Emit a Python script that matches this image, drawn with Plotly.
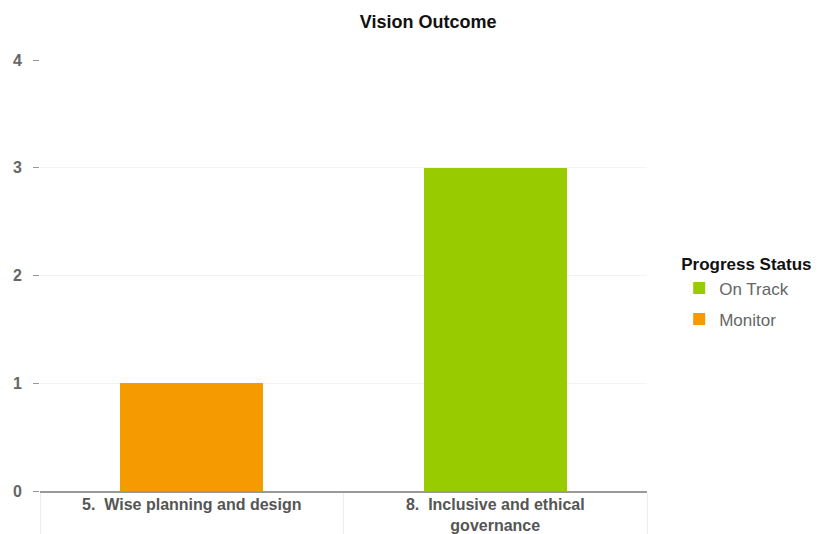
import plotly.graph_objects as go

categories = ["5.  Wise planning and design", "8.  Inclusive and ethical<br>governance"]
series_names = ["On Track", "Monitor"]
on_track_x = ["8.  Inclusive and ethical<br>governance"]
on_track_y = [3]
monitor_x = ["5.  Wise planning and design"]
monitor_y = [1]
y_ticks = [0, 1, 2, 3, 4]

fig = go.Figure()
fig.add_trace(go.Bar(name=series_names[0], x=on_track_x, y=on_track_y,
                     marker=dict(color="#99cc00", line=dict(width=0)), legendgroup="a"))
fig.add_trace(go.Bar(name=series_names[1], x=monitor_x, y=monitor_y,
                     marker=dict(color="#f59a00", line=dict(width=0)), legendgroup="b"))

fig.update_layout(
    width=819, height=534,
    paper_bgcolor="white", plot_bgcolor="white",
    margin=dict(l=32, r=180, t=52, b=51),
    barmode="stack", bargap=0.53,
    font=dict(family="Liberation Sans, Arial, sans-serif", color="#555555"),
    title=dict(text="<b>Vision Outcome</b>", x=0.513, xanchor="center", y=0.975, yanchor="middle",
               font=dict(size=18, color="#111111")),
    legend=dict(title=dict(text="<b>Progress Status</b>", font=dict(size=17, color="#111111")),
                font=dict(size=17, color="#666666"),
                x=1.053, xanchor="left", y=0.46, yanchor="middle",
                traceorder="grouped", tracegroupgap=6),
    xaxis=dict(type="category", categoryorder="array", categoryarray=categories,
               showline=True, linecolor="#999999", linewidth=1.5, automargin=False,
               tickson="boundaries", ticks="outside", ticklen=45, tickcolor="#ececec", tickwidth=1,
               showgrid=False, tickfont=dict(size=16, color="#555555", weight="bold"),
               ticklabelstandoff=-2, range=[-0.5, 1.5]),
    yaxis=dict(range=[0, 4], tickvals=y_ticks, ticks="outside", ticklen=6, tickcolor="#999999",
               showgrid=True, gridcolor="#f3f3f3", zeroline=False, showline=False, automargin=False,
               tickfont=dict(size=16, color="#666666", weight="bold"), ticklabelstandoff=8),
)

fig.write_html("out.html")
